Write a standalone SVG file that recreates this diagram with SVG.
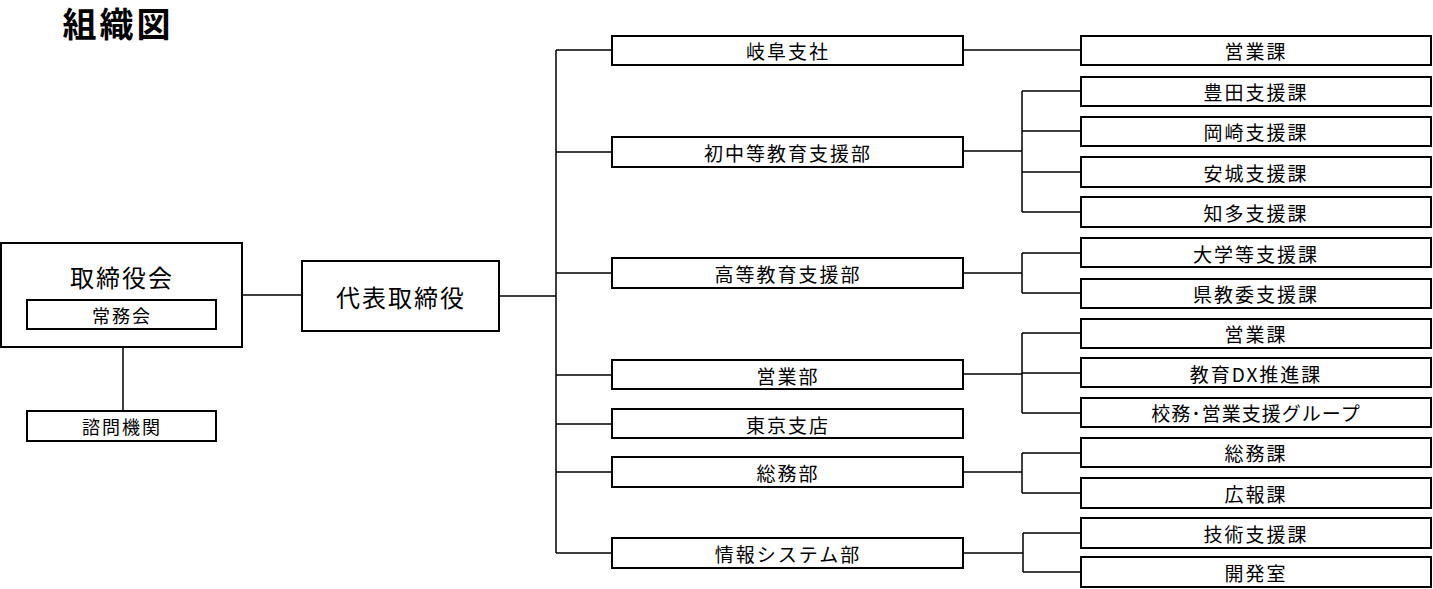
<svg xmlns="http://www.w3.org/2000/svg" width="1433" height="589" viewBox="0 0 1433 589">
<style>
.box{fill:#fff;stroke:#000;stroke-width:2}
.ln{fill:none;stroke:#000;stroke-width:1.5}
text{font-family:"Noto Sans CJK JP","Noto Sans",sans-serif;fill:#000;text-anchor:middle;dominant-baseline:central}
.t{font-size:19px;letter-spacing:2px}
.m{font-size:24px;letter-spacing:2px}
.s{font-size:18px;letter-spacing:2px}
</style>
<rect width="1433" height="589" fill="#fff"/>
<text x="118" y="22" style="font-size:34px;font-weight:bold;letter-spacing:3px">組織図</text>
<g id="connectors">
<path class="ln" d="M242 295H302M123 347V411M499 296H556M556 50V553M556 50H612M556 152H612M556 273H612M556 375H612M556 424H612M556 472H612M556 553H612"/>
<path class="ln" d="M963 50H1081"/>
<path class="ln" d="M963 151H1022M1022 91V212M1022 91H1081M1022 131H1081M1022 172H1081M1022 212H1081"/>
<path class="ln" d="M963 273H1022M1022 253V293M1022 253H1081M1022 293H1081"/>
<path class="ln" d="M963 374H1022M1022 333V413M1022 333H1081M1022 373H1081M1022 413H1081"/>
<path class="ln" d="M963 472H1022M1022 453V493M1022 453H1081M1022 493H1081"/>
<path class="ln" d="M963 553H1023M1023 533V572M1023 533H1081M1023 572H1081"/>
</g>
<g id="board"><rect class="box" x="1" y="243" width="241" height="104"/><text class="m" x="122" y="276">取締役会</text></g>
<g id="jomukai"><rect class="box" x="27" y="300" width="189" height="29"/><text class="s" x="122" y="315">常務会</text></g>
<g id="shimon"><rect class="box" x="27" y="411" width="189" height="30"/><text class="s" x="122" y="426">諮問機関</text></g>
<g id="ceo"><rect class="box" x="302" y="261" width="197" height="70"/><text class="m" x="401" y="296">代表取締役</text></g>
<g id="gifu"><rect class="box" x="612" y="36" width="351" height="29"/><text class="t" x="788" y="50">岐阜支社</text></g>
<g id="shochu"><rect class="box" x="612" y="137" width="351" height="30"/><text class="t" x="788" y="152">初中等教育支援部</text></g>
<g id="koto"><rect class="box" x="612" y="258" width="351" height="30"/><text class="t" x="788" y="273">高等教育支援部</text></g>
<g id="eigyobu"><rect class="box" x="612" y="360" width="351" height="29"/><text class="t" x="788" y="375">営業部</text></g>
<g id="tokyo"><rect class="box" x="612" y="409" width="351" height="29"/><text class="t" x="788" y="424">東京支店</text></g>
<g id="somubu"><rect class="box" x="612" y="457" width="351" height="30"/><text class="t" x="788" y="472">総務部</text></g>
<g id="joho"><rect class="box" x="612" y="538" width="351" height="30"/><text class="t" x="788" y="553">情報システム部</text></g>
<g id="gifu-eigyo"><rect class="box" x="1081" y="36" width="350" height="29"/><text class="t" x="1256" y="50">営業課</text></g>
<g id="toyota"><rect class="box" x="1081" y="77" width="350" height="29"/><text class="t" x="1256" y="91">豊田支援課</text></g>
<g id="okazaki"><rect class="box" x="1081" y="117" width="350" height="29"/><text class="t" x="1256" y="131">岡崎支援課</text></g>
<g id="anjo"><rect class="box" x="1081" y="157" width="350" height="30"/><text class="t" x="1256" y="172">安城支援課</text></g>
<g id="chita"><rect class="box" x="1081" y="197" width="350" height="30"/><text class="t" x="1256" y="212">知多支援課</text></g>
<g id="daigaku"><rect class="box" x="1081" y="238" width="350" height="29"/><text class="t" x="1256" y="253">大学等支援課</text></g>
<g id="kenkyoi"><rect class="box" x="1081" y="279" width="350" height="29"/><text class="t" x="1256" y="293">県教委支援課</text></g>
<g id="eigyoka"><rect class="box" x="1081" y="319" width="350" height="29"/><text class="t" x="1256" y="333">営業課</text></g>
<g id="dx"><rect class="box" x="1081" y="358" width="350" height="29"/><text class="t" x="1256" y="373">教育DX推進課</text></g>
<g id="komu"><rect class="box" x="1081" y="398" width="350" height="29"/><text class="t" x="1256" y="412" style="letter-spacing:1px">校務･営業支援グループ</text></g>
<g id="somuka"><rect class="box" x="1081" y="438" width="350" height="29"/><text class="t" x="1256" y="452">総務課</text></g>
<g id="koho"><rect class="box" x="1081" y="478" width="350" height="30"/><text class="t" x="1256" y="493">広報課</text></g>
<g id="gijutsu"><rect class="box" x="1081" y="518" width="350" height="30"/><text class="t" x="1256" y="533">技術支援課</text></g>
<g id="kaihatsu"><rect class="box" x="1081" y="557" width="350" height="30"/><text class="t" x="1256" y="572">開発室</text></g>
</svg>
